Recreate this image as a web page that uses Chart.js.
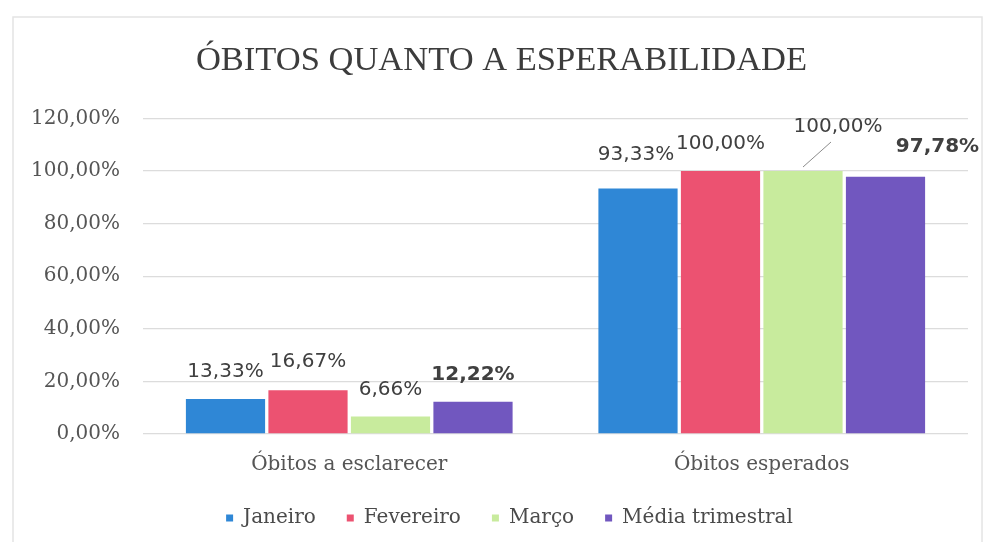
<!DOCTYPE html>
<html lang="pt-BR">
<head>
<meta charset="utf-8">
<title>Óbitos quanto a esperabilidade</title>
<script src="https://cdn.jsdelivr.net/npm/chart.js@4/dist/chart.umd.min.js"></script>
<style>
  html, body { margin: 0; padding: 0; background: #fff; }
  #wrap { width: 986px; height: 542px; position: relative; }
</style>
</head>
<body>
<div id="wrap"><canvas id="grafico" width="986" height="542"></canvas></div>
<script>
// categorias e séries (em %)
const categorias = ["Óbitos a esclarecer", "Óbitos esperados"];
const meses = ["Janeiro", "Fevereiro", "Março", "Média trimestral"];
const janeiro = [13.33, 93.33];
const fevereiro = [16.67, 100.00];
const marco = [6.66, 100.00];
const mediaTrimestral = [12.22, 97.78];

const cores = ["#2f87d6", "#ec5271", "#c8eb9d", "#7157bf"];

// deslocamento dos rótulos em relação ao topo de cada barra [dx, dy]
const desloc = [
    [[0, -27], [-2, -34]],
    [[0, -28], [0, -27]],
    [[0, -27], [35, -44]],
    [[0, -27], [52, -30]]
];

function fmtPct(v) {
    return v.toFixed(2).replace(".", ",") + "%";
}

// rótulos de dados desenhados acima das barras
const rotulos = {
    id: "rotulos",
    afterDatasetsDraw(chart) {
        const ctx = chart.ctx;
        ctx.save();
        ctx.textAlign = "center";
        ctx.textBaseline = "middle";
        ctx.fillStyle = "#404040";
        chart.data.datasets.forEach((ds, i) => {
            const meta = chart.getDatasetMeta(i);
            const negrito = i === 3;
            ctx.font = (negrito ? "bold " : "") + "20px 'DejaVu Sans'";
            meta.data.forEach((bar, j) => {
                const [dx, dy] = desloc[i][j];
                const tx = bar.x + dx;
                const ty = bar.y + dy;
                ctx.fillText(fmtPct(ds.data[j]), tx, ty);
                // linha guia quando o rótulo foi afastado da barra
                if (dx > 20 && !negrito) {
                    ctx.strokeStyle = "#8c8c8c";
                    ctx.lineWidth = 1;
                    ctx.beginPath();
                    ctx.moveTo(bar.x, bar.y - 4);
                    ctx.lineTo(tx - 7, ty + 15);
                    ctx.stroke();
                }
            });
        });
        ctx.restore();
    }
};

// fundo branco e moldura clara
const moldura = {
    id: "moldura",
    beforeDraw(chart) {
        const ctx = chart.ctx;
        ctx.save();
        ctx.fillStyle = "#fff";
        ctx.fillRect(0, 0, chart.width, chart.height);
        ctx.strokeStyle = "#e4e4e4";
        ctx.lineWidth = 1.5;
        ctx.strokeRect(13, 17, 969, 540);
        ctx.restore();
    }
};

// título e legenda ficam um pouco à direita do centro do canvas
const centraliza = {
    id: "centraliza",
    afterLayout(chart) {
        chart.titleBlock.left += 11;
        chart.titleBlock.right += 11;
        chart.legend.left += 19;
        chart.legend.right += 19;
    }
};

const series = [janeiro, fevereiro, marco, mediaTrimestral];

new Chart(document.getElementById("grafico"), {
    type: "bar",
    data: {
        labels: categorias,
        datasets: meses.map((m, i) => ({
            label: m,
            data: series[i],
            backgroundColor: cores[i],
            borderWidth: 0,
            categoryPercentage: 0.8,
            barPercentage: 0.96
        }))
    },
    options: {
        responsive: false,
        animation: false,
        layout: { padding: { top: 20, left: 13, right: 18, bottom: 4 } },
        plugins: {
            title: {
                display: true,
                text: "ÓBITOS QUANTO A ESPERABILIDADE",
                color: "#3c3c3c",
                font: { family: "'Liberation Serif'", size: 34.5, weight: "normal" },
                padding: { top: 20, bottom: 37 }
            },
            legend: {
                position: "bottom",
                labels: {
                    boxWidth: 7,
                    boxHeight: 7,
                    padding: 31,
                    color: "#4a4a4a",
                    font: { family: "'DejaVu Serif'", size: 20 }
                }
            },
            tooltip: { enabled: false }
        },
        scales: {
            x: {
                grid: { display: false, drawTicks: false },
                border: { display: false },
                afterFit: s => { s.height = 43; },
                ticks: {
                    padding: 19,
                    color: "#555",
                    font: { family: "'DejaVu Serif'", size: 20 }
                }
            },
            y: {
                min: 0,
                max: 120,
                border: { display: false },
                afterFit: s => { s.width = 130; },
                grid: { color: "#dcdcdc", lineWidth: 1.3, drawTicks: false },
                ticks: {
                    stepSize: 20,
                    padding: 23,
                    color: "#555",
                    font: { family: "'DejaVu Serif'", size: 20 },
                    callback: v => fmtPct(v)
                }
            }
        }
    },
    plugins: [moldura, centraliza, rotulos]
});
</script>
</body>
</html>
